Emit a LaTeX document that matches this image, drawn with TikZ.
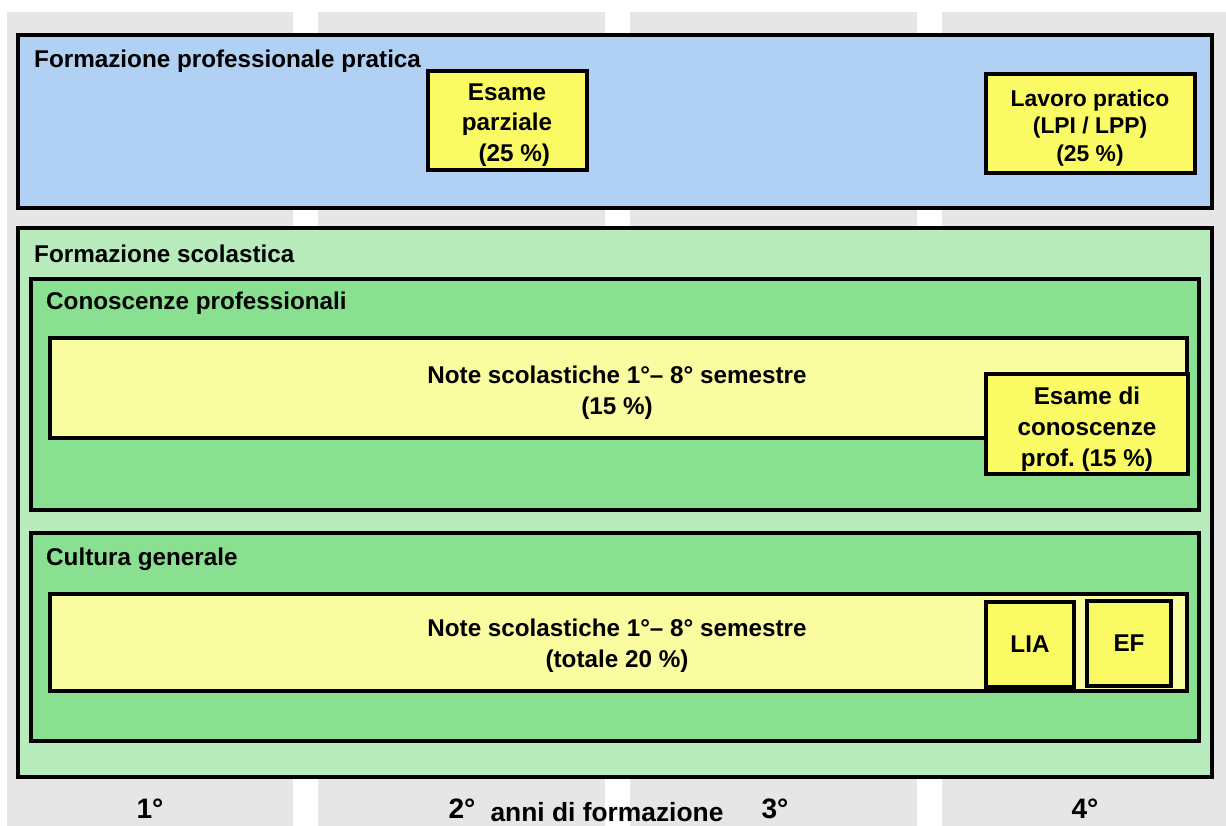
\documentclass[tikz,border=0pt]{standalone}
\usepackage{fontspec}
\setmainfont{Liberation Sans}

\definecolor{colgray}{HTML}{E6E6E6}
\definecolor{pratblue}{HTML}{B0D1F3}
\definecolor{scolgreen}{HTML}{B8ECBC}
\definecolor{midgreen}{HTML}{88E090}
\definecolor{paleyellow}{HTML}{FAFCA0}
\definecolor{examyellow}{HTML}{FAFA64}

\begin{document}
\begin{tikzpicture}[
    every node/.style={font=\fontsize{13.8}{17.5}\selectfont\bfseries, align=center},
    box/.style={draw=black, line width=2.2pt},
    titolo/.style={anchor=west},
    anno/.style={anchor=base, font=\fontsize{16}{19}\selectfont\bfseries},
  ]
  \useasboundingbox (0,0) rectangle (24.52,16.52);

  % --- COLONNE DEGLI ANNI ---
  \foreach \xa/\xb in {0.14/5.86, 6.36/12.10, 12.60/18.34, 18.84/24.52}
    \fill[colgray] (\xa,0) rectangle (\xb,16.28);

  % --- FORMAZIONE PROFESSIONALE PRATICA ---
  \draw[box, fill=pratblue] (0.36,15.82) rectangle (24.24,12.36);
  \node[titolo] (pratica) at (0.56,15.30) {Formazione professionale pratica};

  \draw[box, fill=examyellow] (8.56,15.10) rectangle (11.74,13.12);
  \node (parziale) at (10.14,14.02) {Esame\\parziale\\\hspace*{0.6em}(25 \%)};

  \draw[box, fill=examyellow] (19.72,15.04) rectangle (23.90,13.06);
  \node[font=\fontsize{13}{15.5}\selectfont\bfseries] (lavoro) at (21.80,13.96)
    {Lavoro pratico\\(LPI / LPP)\\(25 \%)};

  % --- FORMAZIONE SCOLASTICA ---
  \draw[box, fill=scolgreen] (0.36,11.96) rectangle (24.24,0.98);
  \node[titolo] (scolastica) at (0.56,11.44) {Formazione scolastica};

  % Conoscenze professionali
  \draw[box, fill=midgreen] (0.62,10.94) rectangle (23.98,6.32);
  \node[titolo] (conoscenze) at (0.80,10.46) {Conoscenze professionali};

  \draw[box, fill=paleyellow] (1.00,9.76) rectangle (23.74,7.76);
  \node (notecp) at (12.34,8.66) {Note scolastiche 1°– 8° semestre\\(15 \%)};

  \draw[box, fill=examyellow] (19.72,9.04) rectangle (23.76,7.04);
  \node (esamecp) at (21.74,7.94) {Esame di\\conoscenze\\prof.\ (15 \%)};

  % Cultura generale
  \draw[box, fill=midgreen] (0.62,5.86) rectangle (23.98,1.70);
  \node[titolo] (cultura) at (0.80,5.34) {Cultura generale};

  \draw[box, fill=paleyellow] (1.00,4.64) rectangle (23.74,2.70);
  \node (notecg) at (12.34,3.60) {Note scolastiche 1°– 8° semestre\\(totale 20 \%)};

  \draw[box, fill=examyellow] (19.72,4.48) rectangle (21.48,2.78);
  \node (lia) at (20.60,3.63) {LIA};

  \draw[box, fill=examyellow] (21.74,4.50) rectangle (23.42,2.80);
  \node (ef) at (22.58,3.65) {EF};

  % --- ANNI DI FORMAZIONE ---
  \node[anno] (anno1) at (3.00,0.14) {1°};
  \node[anno] (anno2) at (9.24,0.14) {2°};
  \node[anno, font=\fontsize{15}{18}\selectfont\bfseries] (anni) at (12.14,0.08) {anni di formazione};
  \node[anno] (anno3) at (15.50,0.14) {3°};
  \node[anno] (anno4) at (21.70,0.14) {4°};

\end{tikzpicture}
\end{document}
